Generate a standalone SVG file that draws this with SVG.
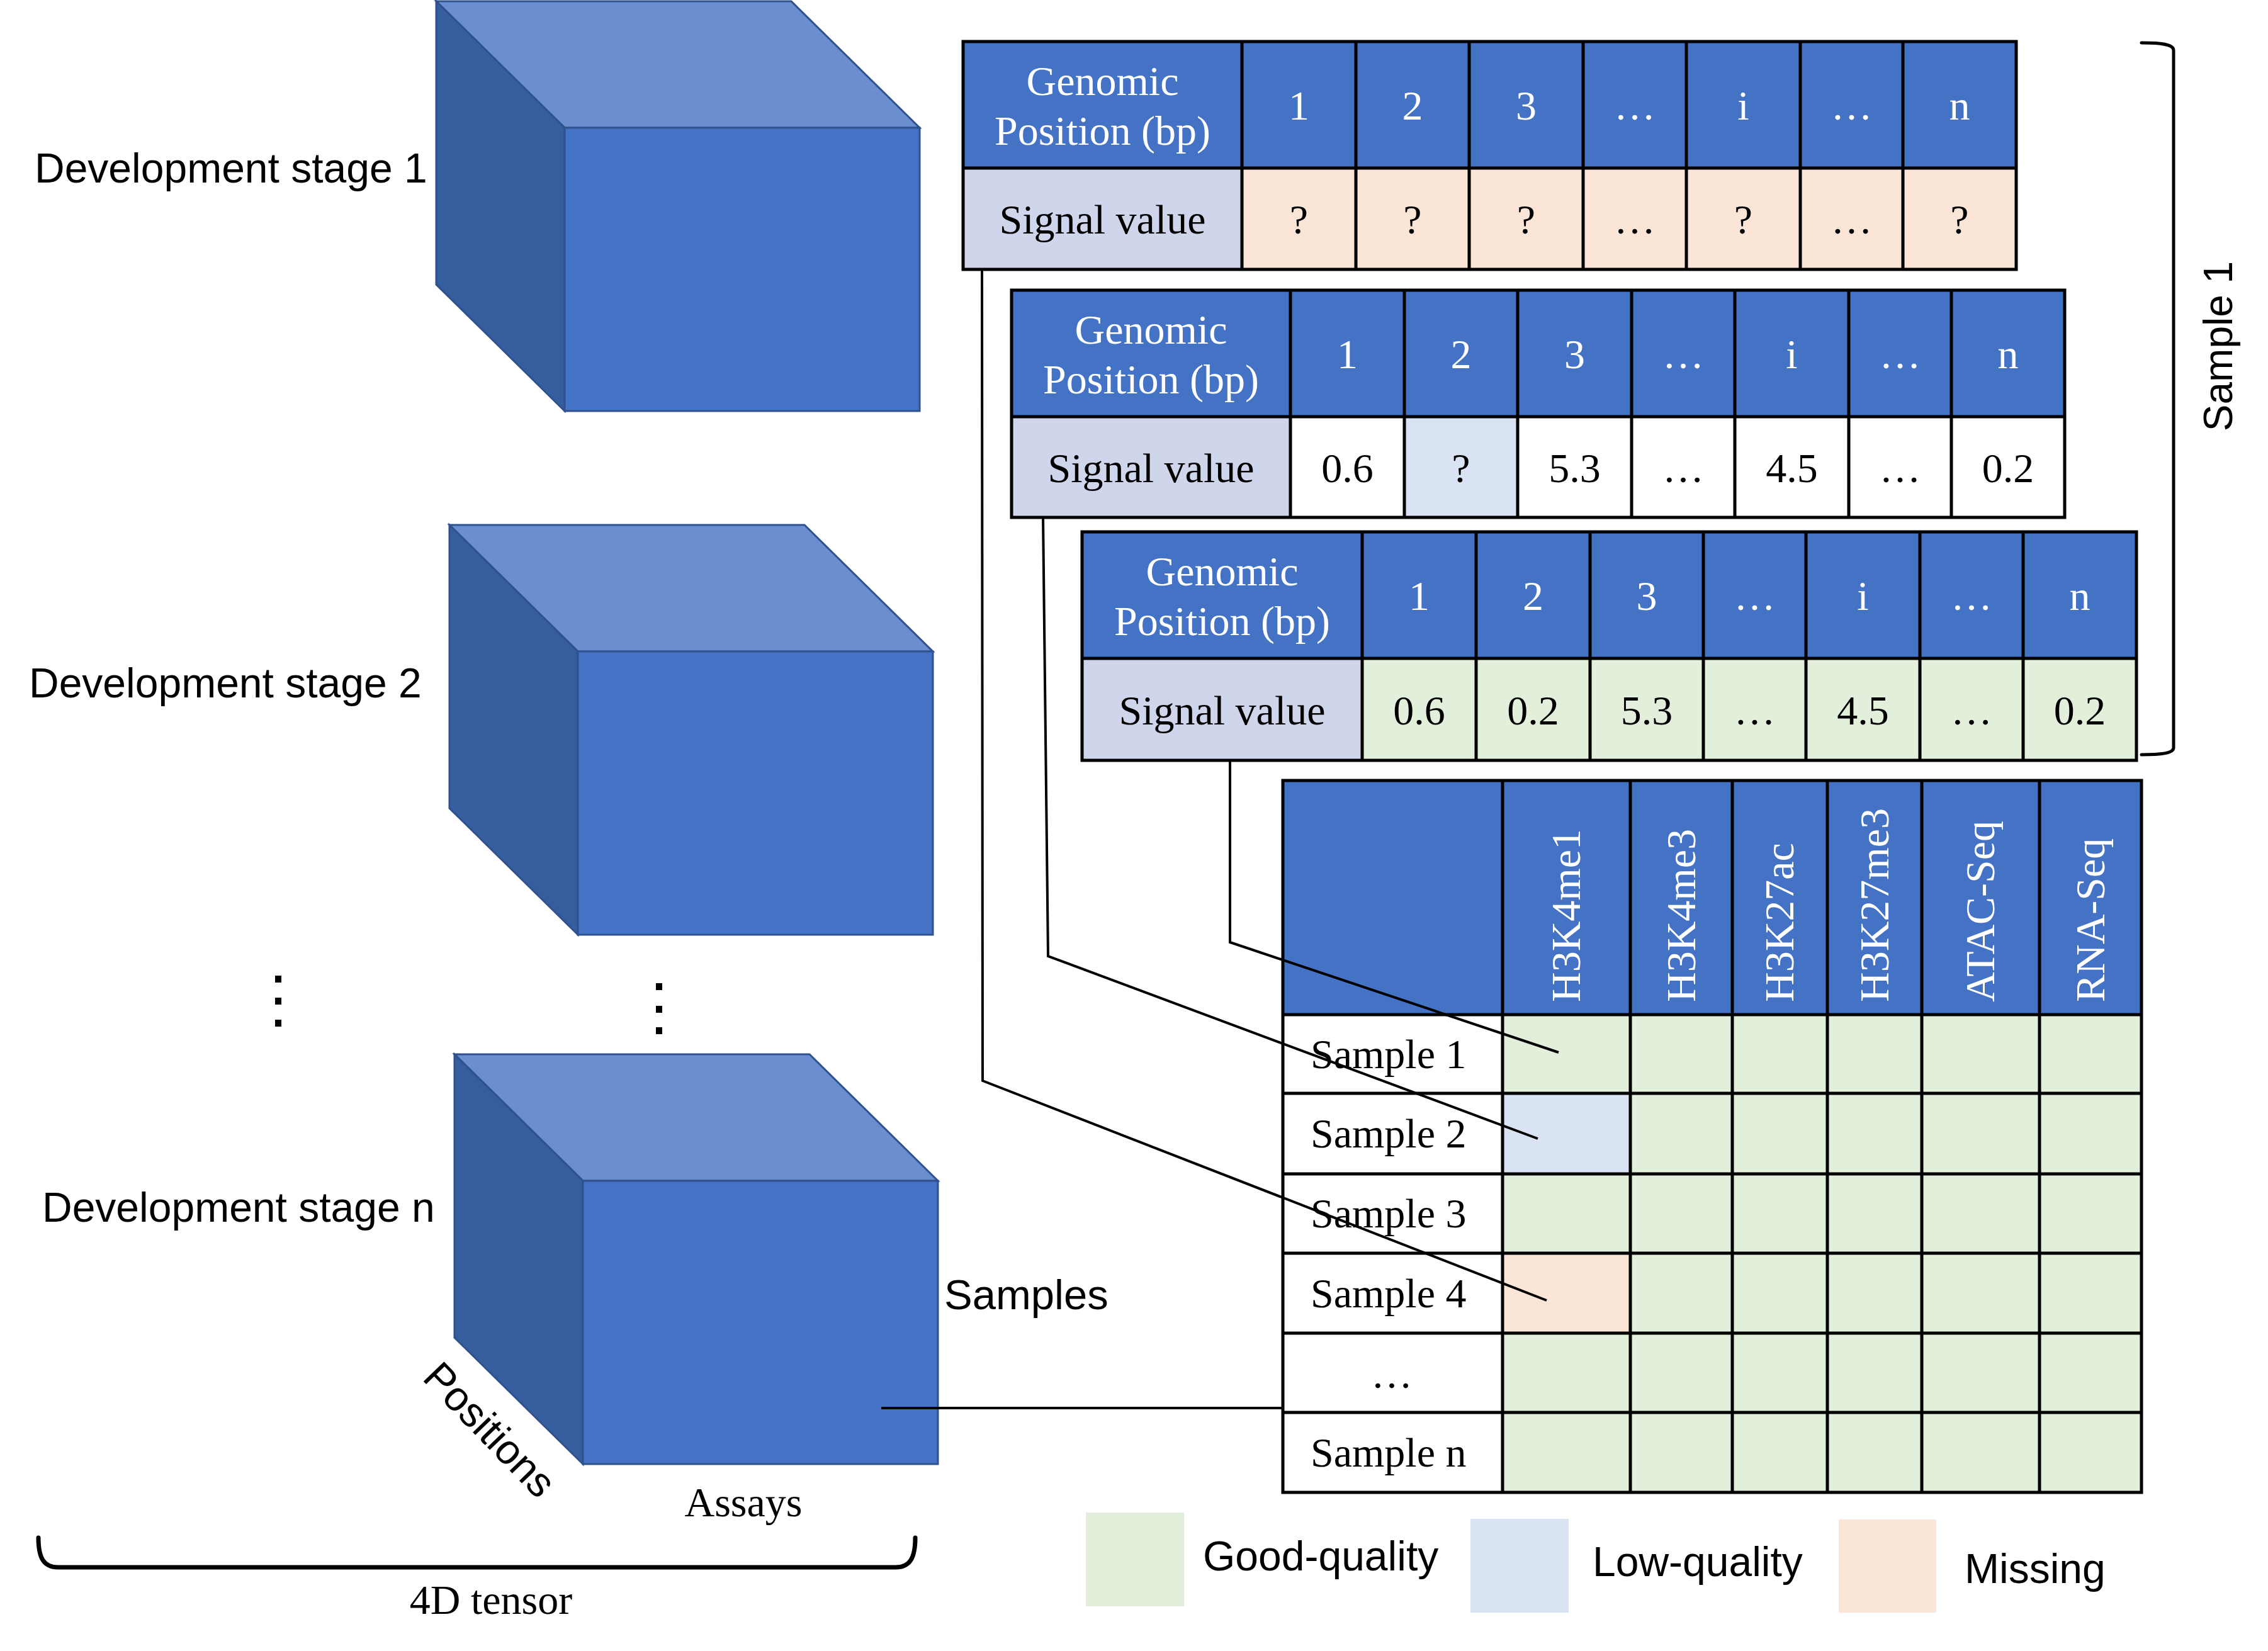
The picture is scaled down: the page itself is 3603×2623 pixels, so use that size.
<svg xmlns="http://www.w3.org/2000/svg" width="3603" height="2623" viewBox="0 0 3603 2623">
<style>
.bg{fill:#fff}
.front{fill:#4472C4;stroke:#2F528F;stroke-width:3}
.top{fill:#6A8ED0;stroke:#2F528F;stroke-width:3}
.side{fill:#365E9F;stroke:#2F528F;stroke-width:3}
.hdr{fill:#4472C4}
.lab{fill:#CFD5EA}
.miss{fill:#FBE5D6}
.low{fill:#DAE3F3}
.good{fill:#E2EFDA}
.wht{fill:#FFFFFF}
.grid{fill:none;stroke:#000;stroke-width:5}
.tw{font-family:"Liberation Serif","Times New Roman",serif;font-size:66px;fill:#fff;text-anchor:middle}
.tv{font-family:"Liberation Serif","Times New Roman",serif;font-size:66px;fill:#fff;text-anchor:start}
.tb{font-family:"Liberation Serif","Times New Roman",serif;font-size:66px;fill:#000;text-anchor:middle}
.tl{font-family:"Liberation Serif","Times New Roman",serif;font-size:66px;fill:#000}
.sans{font-family:"Liberation Sans",Arial,sans-serif;font-size:66px;fill:#000}
.conn{fill:none;stroke:#000;stroke-width:4}
.brace{fill:none;stroke:#000;stroke-linecap:round}
.dot{fill:#000}
</style>
<rect class="bg" x="0" y="0" width="3603" height="2623"/>

<g id="cube1">
<polygon class="top" points="693,2 1257,2 1461,203 897,203"/>
<polygon class="side" points="693,2 897,203 897,653 693,452"/>
<rect class="front" x="897" y="203" width="564" height="450"/>
</g>
<g id="cube2">
<polygon class="top" points="714,834 1278,834 1482,1035 918,1035"/>
<polygon class="side" points="714,834 918,1035 918,1485 714,1284"/>
<rect class="front" x="918" y="1035" width="564" height="450"/>
</g>
<g id="cubeN">
<polygon class="top" points="722,1675 1286,1675 1490,1876 926,1876"/>
<polygon class="side" points="722,1675 926,1876 926,2326 722,2125"/>
<rect class="front" x="926" y="1876" width="564" height="450"/>
</g>

<g id="stage-labels">
<text class="sans" x="55" y="290">Development stage 1</text>
<text class="sans" x="46" y="1108">Development stage 2</text>
<text class="sans" x="67" y="1941">Development stage n</text>
</g>

<g id="vdots">
<rect class="dot" x="437" y="1550" width="10" height="11"/>
<rect class="dot" x="437" y="1585" width="10" height="11"/>
<rect class="dot" x="437" y="1620" width="10" height="11"/>
<rect class="dot" x="1042" y="1562" width="10" height="11"/>
<rect class="dot" x="1042" y="1598" width="10" height="11"/>
<rect class="dot" x="1042" y="1632" width="10" height="11"/>
</g>

<g id="axis-labels">
<text class="sans" x="1500" y="2080" style="font-size:67px">Samples</text>
<text class="sans" transform="translate(762,2287) rotate(46)" text-anchor="middle">Positions</text>
<text class="tb" x="1181" y="2409">Assays</text>
</g>

<g id="tensor-brace">
<path class="brace" stroke-width="7" d="M61,2443 C61,2476 70,2490 92,2490 L1423,2490 C1445,2490 1454,2476 1454,2443"/>
<text class="tb" x="780" y="2564">4D tensor</text>
</g>

<g id="table1" transform="translate(1530,66)">
<rect class="hdr" x="0" y="0" width="1673" height="201"/>
<rect class="lab" x="0" y="201" width="443" height="161"/>
<rect class="miss" x="443" y="201" width="1230" height="161"/>
<path class="grid" d="M443,0V362M624,0V362M804,0V362M985,0V362M1149,0V362M1330,0V362M1493,0V362M0,201H1673"/>
<rect class="grid" x="0" y="0" width="1673" height="362"/>
<text class="tw" x="221.5" y="85">Genomic</text>
<text class="tw" x="221.5" y="164">Position (bp)</text>
<text class="tw" x="533.5" y="124">1</text><text class="tw" x="714" y="124">2</text><text class="tw" x="894.5" y="124">3</text><text class="tw" x="1067" y="124">…</text><text class="tw" x="1239.5" y="124">i</text><text class="tw" x="1411.5" y="124">…</text><text class="tw" x="1583" y="124">n</text>
<text class="tb" x="221.5" y="305">Signal value</text>
<text class="tb" x="533.5" y="305">?</text><text class="tb" x="714" y="305">?</text><text class="tb" x="894.5" y="305">?</text><text class="tb" x="1067" y="305">…</text><text class="tb" x="1239.5" y="305">?</text><text class="tb" x="1411.5" y="305">…</text><text class="tb" x="1583" y="305">?</text>
</g>

<g id="table2" transform="translate(1607,461)">
<rect class="hdr" x="0" y="0" width="1673" height="201"/>
<rect class="lab" x="0" y="201" width="443" height="160"/>
<rect class="wht" x="443" y="201" width="1230" height="160"/>
<rect class="low" x="624" y="201" width="180" height="160"/>
<path class="grid" d="M443,0V361M624,0V361M804,0V361M985,0V361M1149,0V361M1330,0V361M1493,0V361M0,201H1673"/>
<rect class="grid" x="0" y="0" width="1673" height="361"/>
<text class="tw" x="221.5" y="85">Genomic</text>
<text class="tw" x="221.5" y="164">Position (bp)</text>
<text class="tw" x="533.5" y="124">1</text><text class="tw" x="714" y="124">2</text><text class="tw" x="894.5" y="124">3</text><text class="tw" x="1067" y="124">…</text><text class="tw" x="1239.5" y="124">i</text><text class="tw" x="1411.5" y="124">…</text><text class="tw" x="1583" y="124">n</text>
<text class="tb" x="221.5" y="305">Signal value</text>
<text class="tb" x="533.5" y="305">0.6</text><text class="tb" x="714" y="305">?</text><text class="tb" x="894.5" y="305">5.3</text><text class="tb" x="1067" y="305">…</text><text class="tb" x="1239.5" y="305">4.5</text><text class="tb" x="1411.5" y="305">…</text><text class="tb" x="1583" y="305">0.2</text>
</g>

<g id="table3" transform="translate(1719,845)">
<rect class="hdr" x="0" y="0" width="1675" height="201"/>
<rect class="lab" x="0" y="201" width="445" height="162"/>
<rect class="good" x="445" y="201" width="1230" height="162"/>
<path class="grid" d="M445,0V363M626,0V363M807,0V363M987,0V363M1150,0V363M1331,0V363M1495,0V363M0,201H1675"/>
<rect class="grid" x="0" y="0" width="1675" height="363"/>
<text class="tw" x="222.5" y="85">Genomic</text>
<text class="tw" x="222.5" y="164">Position (bp)</text>
<text class="tw" x="535.5" y="124">1</text><text class="tw" x="716.5" y="124">2</text><text class="tw" x="897" y="124">3</text><text class="tw" x="1068.5" y="124">…</text><text class="tw" x="1240.5" y="124">i</text><text class="tw" x="1413" y="124">…</text><text class="tw" x="1585" y="124">n</text>
<text class="tb" x="222.5" y="306">Signal value</text>
<text class="tb" x="535.5" y="306">0.6</text><text class="tb" x="716.5" y="306">0.2</text><text class="tb" x="897" y="306">5.3</text><text class="tb" x="1068.5" y="306">…</text><text class="tb" x="1240.5" y="306">4.5</text><text class="tb" x="1413" y="306">…</text><text class="tb" x="1585" y="306">0.2</text>
</g>

<g id="sample-brace">
<path class="brace" stroke-width="5" d="M3402,68 C3432,68 3453,70 3453,80 L3453,1188 C3453,1197 3432,1199 3402,1199"/>
<text class="sans" transform="translate(3546,550) rotate(-90)" text-anchor="middle" style="font-size:64px">Sample 1</text>
</g>

<g id="matrix">
<rect class="hdr" x="2038" y="1240" width="1364" height="372"/>
<rect class="wht" x="2038" y="1612" width="349" height="759"/>
<rect class="good" x="2387" y="1612" width="1015" height="759"/>
<rect class="low" x="2387" y="1737" width="203" height="128"/>
<rect class="miss" x="2387" y="1991" width="203" height="127"/>
<path class="grid" d="M2387,1240V2371M2590,1240V2371M2752,1240V2371M2903,1240V2371M3053,1240V2371M3240,1240V2371M2038,1612H3402M2038,1737H3402M2038,1865H3402M2038,1991H3402M2038,2118H3402M2038,2244H3402"/>
<rect class="grid" x="2038" y="1240" width="1364" height="1131"/>
<text class="tv" transform="translate(2510,1592) rotate(-90)">H3K4me1</text>
<text class="tv" transform="translate(2693,1592) rotate(-90)">H3K4me3</text>
<text class="tv" transform="translate(2849,1592) rotate(-90)">H3K27ac</text>
<text class="tv" transform="translate(3000,1592) rotate(-90)">H3K27me3</text>
<text class="tv" transform="translate(3168,1592) rotate(-90)">ATAC-Seq</text>
<text class="tv" transform="translate(3343,1592) rotate(-90)">RNA-Seq</text>
<text class="tl" x="2082" y="1697">Sample 1</text>
<text class="tl" x="2082" y="1823">Sample 2</text>
<text class="tl" x="2082" y="1950">Sample 3</text>
<text class="tl" x="2082" y="2077">Sample 4</text>
<text class="tb" x="2211" y="2205">…</text>
<text class="tl" x="2082" y="2330">Sample n</text>
</g>

<g id="connectors">
<polyline class="conn" points="1560,429 1561,1717 2457,2066"/>
<polyline class="conn" points="1657,821 1665,1519 2443,1809"/>
<polyline class="conn" points="1954,1208 1954,1497 2476,1672"/>
<polyline class="conn" points="1400,2237 2038,2237"/>
</g>

<g id="legend">
<rect class="good" x="1725" y="2403" width="156" height="149"/>
<text class="sans" x="1911" y="2495">Good-quality</text>
<rect class="low" x="2336" y="2413" width="156" height="149"/>
<text class="sans" x="2530" y="2504">Low-quality</text>
<rect class="miss" x="2921" y="2414" width="155" height="148"/>
<text class="sans" x="3121" y="2515">Missing</text>
</g>
</svg>
